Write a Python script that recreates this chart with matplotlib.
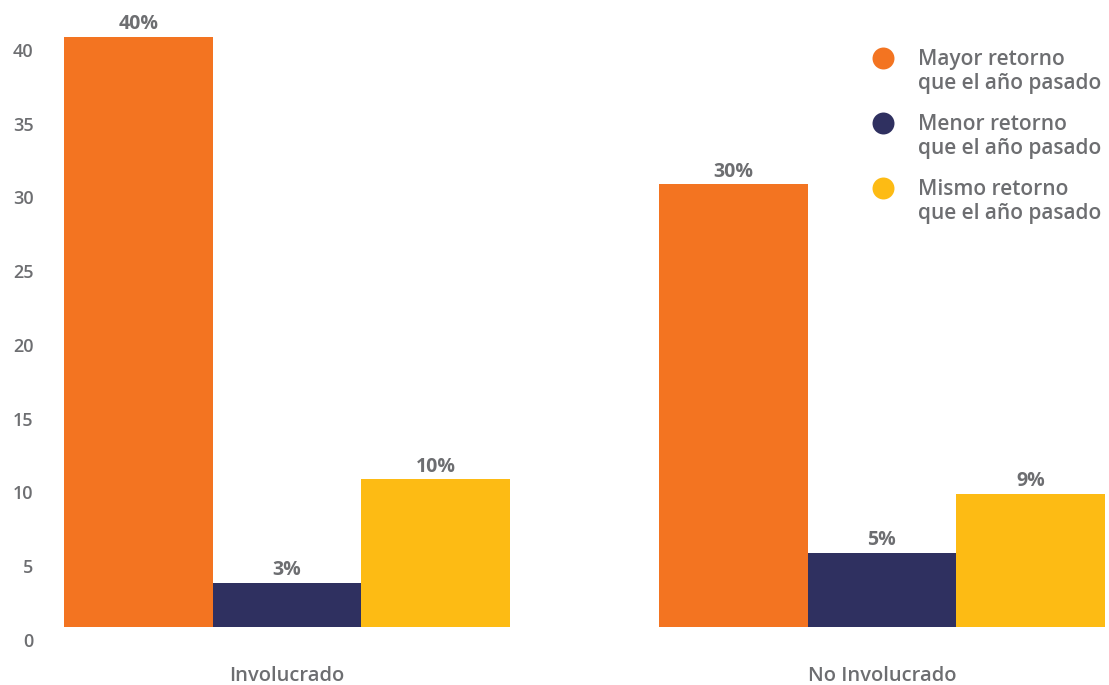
import matplotlib
matplotlib.use("Agg")
import matplotlib.pyplot as plt
from matplotlib.transforms import ScaledTranslation
import numpy as np

categories = ["Involucrado", "No Involucrado"]
series = ["Mayor retorno\nque el año pasado",
          "Menor retorno\nque el año pasado",
          "Mismo retorno\nque el año pasado"]
mayor = [40, 30]
menor = [3, 5]
mismo = [10, 9]
yticks = [0, 5, 10, 15, 20, 25, 30, 35, 40]

COLORS = ["#F37421", "#2F3060", "#FDBB14"]
GREY = "#6D6E71"
plt.rcParams["font.family"] = ["Open Sans", "DejaVu Sans"]

fig = plt.figure(figsize=(11.09, 6.85), dpi=100)
ax = fig.add_axes([64 / 1109, 58 / 685, 1041 / 1109, 627 / 685])

x = np.arange(len(categories))
w = 0.25
for i, (vals, col) in enumerate(zip((mayor, menor, mismo), COLORS)):
    bars = ax.bar(x + (i - 1) * w, vals, w, color=col, linewidth=0)
    for b, v in zip(bars, vals):
        ax.annotate(f"{v}%", (b.get_x() + b.get_width() / 2, v),
                    xytext=(0, 2), textcoords="offset points",
                    ha="center", va="bottom", fontsize=14, fontweight="bold",
                    color=GREY)

ax.set_xlim(-0.375, 1.375)
ax.set_ylim(0, 42.5)
ax.set_xticks(x)
ax.set_xticklabels(categories, fontsize=14.5, fontweight="semibold", color=GREY)
ax.set_yticks(yticks)
ax.set_yticklabels([str(t) for t in yticks], fontsize=13, fontweight="semibold",
                   color=GREY)
ax.tick_params(axis="x", length=0, pad=28)
ax.tick_params(axis="y", length=0, pad=22)
# y labels sit a bit below their gridline positions in the original
shift = ScaledTranslation(0, -13 / 100, fig.dpi_scale_trans)
for lab in ax.get_yticklabels():
    lab.set_transform(lab.get_transform() + shift)
for s in ax.spines.values():
    s.set_visible(False)

# legend drawn by hand: marker lines up with first text line
leg_x, text_x = 883, 918
for k, (name, col) in enumerate(zip(series, COLORS)):
    yp = 58 + k * 65
    ax.scatter([leg_x / 1109], [1 - yp / 685], s=250, color=col,
               transform=fig.transFigure, clip_on=False, linewidths=0)
    fig.text(text_x / 1109, 1 - (yp - 9) / 685, name, ha="left", va="top",
             fontsize=15, fontweight="semibold", color=GREY, linespacing=1.2)

fig.savefig("out.png", dpi=100)
